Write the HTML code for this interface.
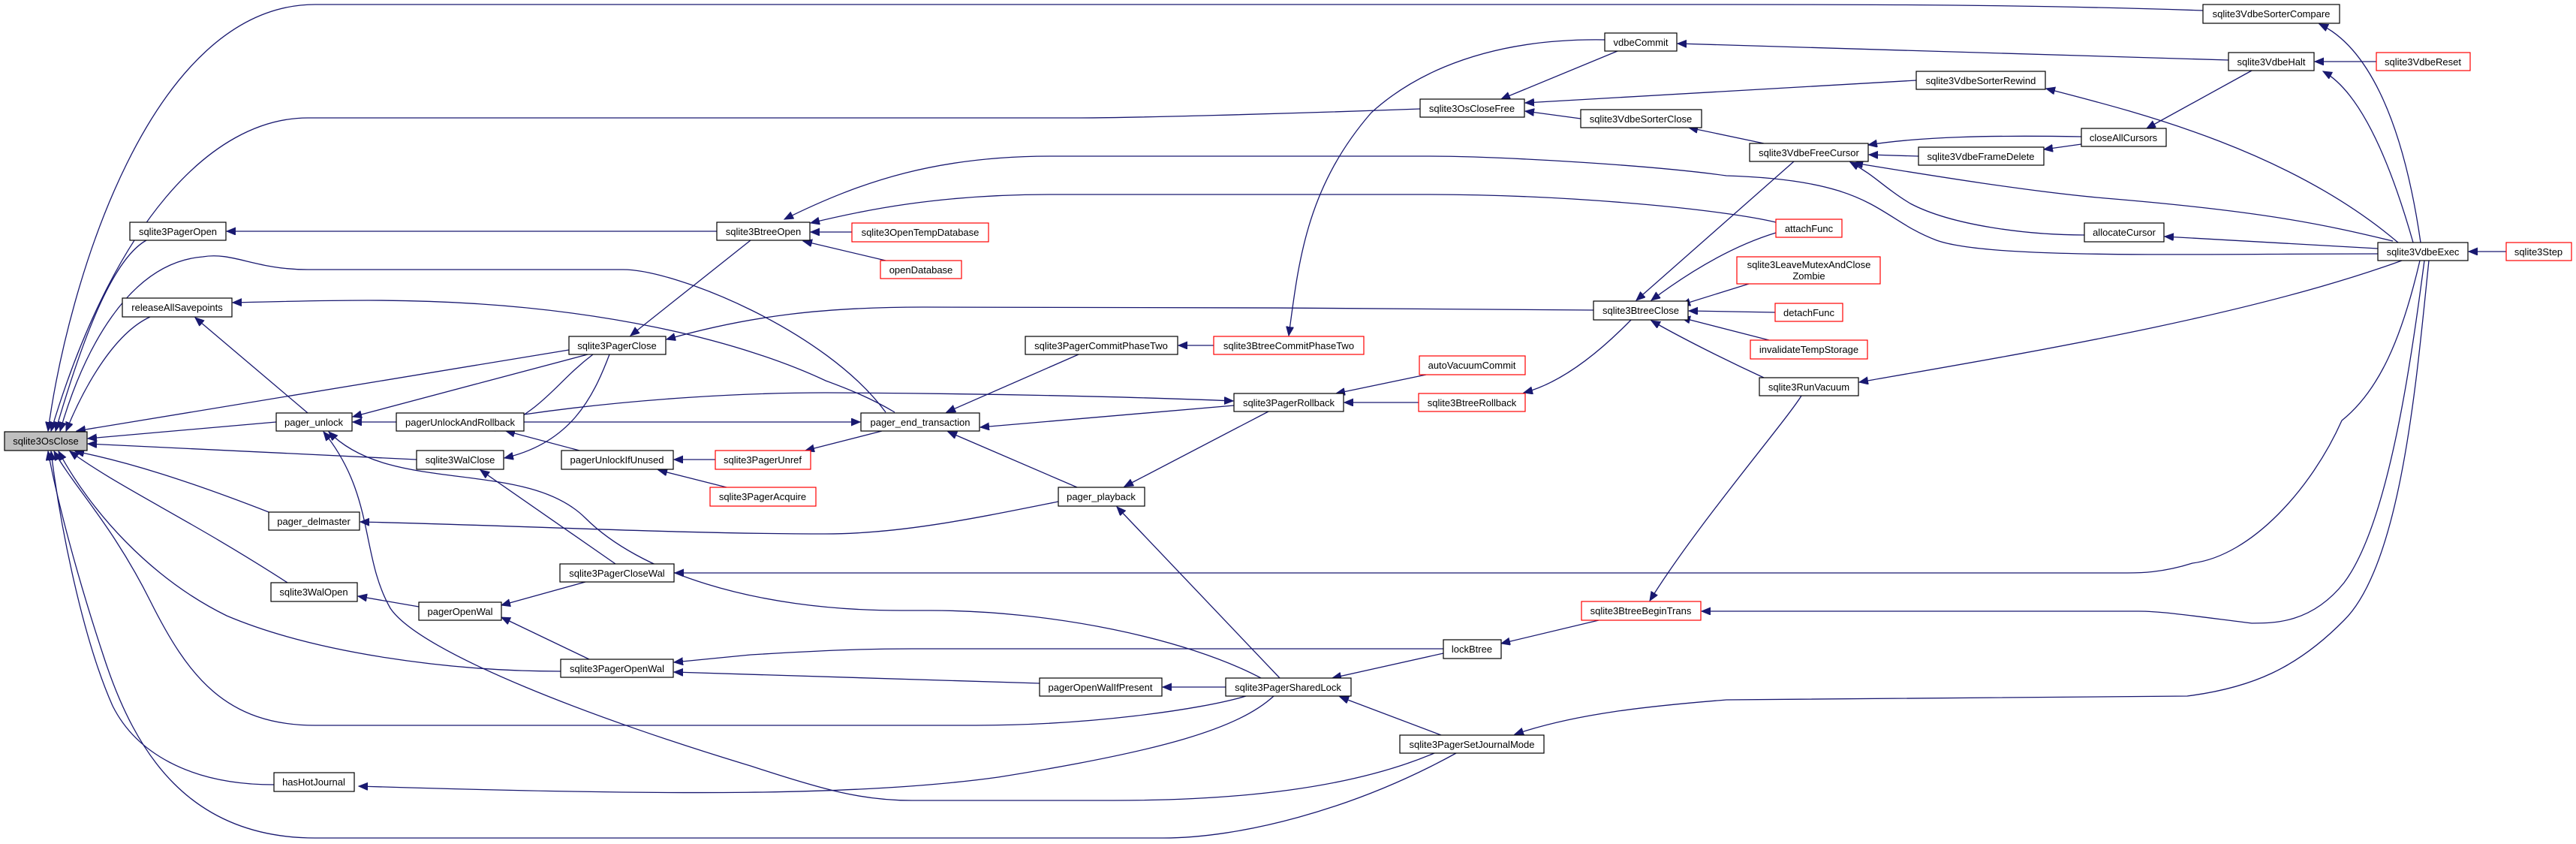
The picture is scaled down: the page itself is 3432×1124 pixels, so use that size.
<!DOCTYPE html>
<html><head><meta charset="utf-8"><style>
html,body{margin:0;padding:0;background:#fff;}
svg{display:block;}
text{font-family:"Liberation Sans",Arial,sans-serif;font-size:13px;fill:#000;}
.n{fill:#fff;stroke:#000;stroke-width:1.2;}
.r{fill:#fff;stroke:#ff0000;stroke-width:1.2;}
.g{fill:#bfbfbf;stroke:#000;stroke-width:1.2;}
path{fill:none;stroke:#191970;stroke-width:1.3;}
</style></head><body>
<svg width="3432" height="1124" viewBox="0 0 3432 1124" xmlns="http://www.w3.org/2000/svg">
<defs><marker id="a" markerUnits="userSpaceOnUse" markerWidth="14" markerHeight="12" refX="12" refY="5" orient="auto"><path d="M0,0 L12,5 L0,10 z" style="fill:#191970;stroke:#191970;stroke-width:1"/></marker></defs>
<g marker-end="url(#a)">
<path d="M2935,14 C2700,6 2500,6 2300,6 L420,6 C200,6 90,380 64,574"/>
<path d="M1892,145 C1700,152 1500,157 1440,157 L410,157 C280,157 150,300 68,574"/>
<path d="M195,320 C150,345 110,450 74,574"/>
<path d="M1180,549 C1100,440 900,359 830,359 L410,359 C340,359 310,335 270,342 C170,350 110,470 80,574"/>
<path d="M200,422 C150,445 110,520 88,574"/>
<path d="M758,466 C520,505 300,540 102,574"/>
<path d="M368,562 L117,584"/>
<path d="M555,612 L117,591"/>
<path d="M358,682 C250,640 170,615 100,601"/>
<path d="M383,776 C250,690 160,650 93,601"/>
<path d="M747,894 C600,894 420,870 302,820 C200,770 120,680 78,601"/>
<path d="M1660,927 C1600,945 1450,966 1300,966 L420,966 C300,966 250,900 200,800 C150,700 100,650 72,601"/>
<path d="M365,1045 C250,1045 180,1000 150,940 C110,850 80,700 68,601"/>
<path d="M1940,1003 C1800,1080 1650,1116 1550,1116 L420,1116 C250,1116 180,1000 140,880 C100,760 75,660 64,601"/>
<path d="M410,550 L260,423"/>
<path d="M528,562 L470,562"/>
<path d="M783,472 L470,555"/>
<path d="M1000,320 L840,447"/>
<path d="M2123,413 C1900,410 1400,409 1230,409 C1100,409 1000,420 888,452"/>
<path d="M790,472 C740,510 730,540 660,574"/>
<path d="M812,472 C790,530 760,590 672,610"/>
<path d="M698,552 C850,530 1000,523 1100,523 C1300,524 1500,528 1643,534"/>
<path d="M698,562 L1146,562"/>
<path d="M772,600 L674,574"/>
<path d="M953,612 L898,612"/>
<path d="M968,649 L877,626"/>
<path d="M1175,574 L1073,600"/>
<path d="M1410,668 C1300,690 1200,711 1100,711 C900,711 700,700 480,695"/>
<path d="M820,751 L640,626"/>
<path d="M785,878 L668,822"/>
<path d="M780,775 L668,806"/>
<path d="M558,808 L477,794"/>
<path d="M1385,910 L898,895"/>
<path d="M1923,864 L1215,864 C1150,864 1100,866 1000,872 L898,882"/>
<path d="M1680,903 C1580,850 1400,813 1240,813 L1200,813 C1000,813 850,760 780,690 C700,610 520,660 438,575"/>
<path d="M1911,1003 C1800,1050 1650,1066 1483,1066 L1215,1066 C1150,1066 1100,1053 1000,1020 C800,960 560,870 520,810 C480,740 500,660 431,575"/>
<path d="M1697,927 C1650,970 1550,1000 1330,1035 C1150,1060 900,1060 478,1047"/>
<path d="M1437,472 L1261,549"/>
<path d="M1617,460 L1570,460"/>
<path d="M1644,540 L1306,569"/>
<path d="M1690,548 L1498,648"/>
<path d="M1435,649 L1263,575"/>
<path d="M1705,903 L1488,675"/>
<path d="M1633,915 L1549,915"/>
<path d="M1923,870 L1775,903"/>
<path d="M2130,826 L2000,857"/>
<path d="M1920,979 L1785,928"/>
<path d="M1890,536 L1791,536"/>
<path d="M1900,499 L1780,524"/>
<path d="M2173,426 C2130,470 2080,510 2030,523"/>
<path d="M2400,527 C2380,560 2260,700 2198,800"/>
<path d="M955,308 L302,308"/>
<path d="M1135,309 L1080,309"/>
<path d="M1180,347 L1070,321"/>
<path d="M3168,338 C2900,338 2650,345 2580,320 C2500,290 2500,240 2300,234 C2200,220 2000,208 1900,208 L1400,208 C1250,208 1150,240 1045,292"/>
<path d="M2366,296 C2300,280 2100,259 1900,259 L1400,259 C1250,259 1150,280 1080,297"/>
<path d="M2138,53 C1950,50 1860,120 1827,150 C1740,250 1730,350 1717,447"/>
<path d="M2155,68 L2000,132"/>
<path d="M2969,80 L2235,58"/>
<path d="M2553,107 L2032,137"/>
<path d="M2106,158 L2032,148"/>
<path d="M2350,191 L2250,170"/>
<path d="M2773,182 C2650,180 2560,182 2489,193"/>
<path d="M2556,208 L2490,206"/>
<path d="M2773,192 L2723,199"/>
<path d="M3000,94 L2860,171"/>
<path d="M3166,82 L3084,82"/>
<path d="M3215,323 C3180,200 3140,120 3095,95"/>
<path d="M3225,323 C3200,150 3150,60 3090,32"/>
<path d="M3195,323 C3050,200 2850,150 2726,118"/>
<path d="M3188,321 C3100,300 3022,282 2805,264 C2700,255 2550,230 2470,217"/>
<path d="M2777,313 C2700,313 2600,300 2545,271 C2510,250 2500,235 2465,216"/>
<path d="M3168,331 L2884,315"/>
<path d="M3339,335 L3289,335"/>
<path d="M3200,347 C3000,420 2700,470 2477,509"/>
<path d="M3224,347 C3200,450 3170,520 3120,560 C3080,650 3000,740 2921,750 C2880,763 2850,763 2834,763 L899,763"/>
<path d="M3230,347 C3210,500 3180,700 3123,776 C3080,830 3030,830 3000,830 C2920,820 2880,814 2849,814 L2267,814"/>
<path d="M3236,347 C3220,500 3200,750 3123,826 C3060,890 3000,916 2914,927 L2300,932 C2200,940 2100,950 2018,978"/>
<path d="M2390,215 L2180,400"/>
<path d="M2366,310 C2300,330 2240,370 2200,400"/>
<path d="M2330,378 L2240,406"/>
<path d="M2365,416 L2250,414"/>
<path d="M2357,453 L2240,423"/>
<path d="M2350,503 C2300,480 2240,450 2200,427"/>
<path d="M1192,549 C1160,530 1130,518 1100,507 C1000,460 800,400 491,400 C420,400 360,402 310,403"/>
</g>
<g>
<rect class="g" x="6" y="575" width="110" height="25"/><text x="61" y="592" text-anchor="middle">sqlite3OsClose</text>
<rect class="n" x="173" y="296" width="128" height="24"/><text x="237" y="313" text-anchor="middle">sqlite3PagerOpen</text>
<rect class="n" x="955" y="296" width="124" height="24"/><text x="1017" y="313" text-anchor="middle">sqlite3BtreeOpen</text>
<rect class="n" x="163" y="397" width="146" height="25"/><text x="236" y="414" text-anchor="middle">releaseAllSavepoints</text>
<rect class="n" x="758" y="448" width="129" height="24"/><text x="822" y="465" text-anchor="middle">sqlite3PagerClose</text>
<rect class="n" x="368" y="550" width="101" height="24"/><text x="418" y="567" text-anchor="middle">pager_unlock</text>
<rect class="n" x="528" y="550" width="170" height="24"/><text x="613" y="567" text-anchor="middle">pagerUnlockAndRollback</text>
<rect class="n" x="555" y="600" width="116" height="25"/><text x="613" y="617" text-anchor="middle">sqlite3WalClose</text>
<rect class="n" x="748" y="600" width="149" height="25"/><text x="822" y="617" text-anchor="middle">pagerUnlockIfUnused</text>
<rect class="r" x="953" y="600" width="127" height="25"/><text x="1016" y="617" text-anchor="middle">sqlite3PagerUnref</text>
<rect class="r" x="946" y="649" width="141" height="25"/><text x="1016" y="666" text-anchor="middle">sqlite3PagerAcquire</text>
<rect class="n" x="358" y="682" width="121" height="24"/><text x="418" y="699" text-anchor="middle">pager_delmaster</text>
<rect class="n" x="746" y="751" width="152" height="24"/><text x="822" y="768" text-anchor="middle">sqlite3PagerCloseWal</text>
<rect class="n" x="361" y="776" width="115" height="25"/><text x="418" y="793" text-anchor="middle">sqlite3WalOpen</text>
<rect class="n" x="558" y="802" width="110" height="24"/><text x="613" y="819" text-anchor="middle">pagerOpenWal</text>
<rect class="n" x="747" y="878" width="150" height="24"/><text x="822" y="895" text-anchor="middle">sqlite3PagerOpenWal</text>
<rect class="n" x="365" y="1029" width="107" height="25"/><text x="418" y="1046" text-anchor="middle">hasHotJournal</text>
<rect class="n" x="2138" y="44" width="96" height="24"/><text x="2186" y="61" text-anchor="middle">vdbeCommit</text>
<rect class="n" x="1892" y="132" width="139" height="24"/><text x="1961" y="149" text-anchor="middle">sqlite3OsCloseFree</text>
<rect class="n" x="2106" y="146" width="161" height="24"/><text x="2186" y="163" text-anchor="middle">sqlite3VdbeSorterClose</text>
<rect class="r" x="1135" y="297" width="182" height="25"/><text x="1226" y="314" text-anchor="middle">sqlite3OpenTempDatabase</text>
<rect class="r" x="1173" y="347" width="108" height="24"/><text x="1227" y="364" text-anchor="middle">openDatabase</text>
<rect class="n" x="2123" y="401" width="126" height="25"/><text x="2186" y="418" text-anchor="middle">sqlite3BtreeClose</text>
<rect class="n" x="1366" y="448" width="203" height="24"/><text x="1467" y="465" text-anchor="middle">sqlite3PagerCommitPhaseTwo</text>
<rect class="r" x="1617" y="448" width="200" height="24"/><text x="1717" y="465" text-anchor="middle">sqlite3BtreeCommitPhaseTwo</text>
<rect class="r" x="1891" y="474" width="141" height="25"/><text x="1961" y="491" text-anchor="middle">autoVacuumCommit</text>
<rect class="n" x="1644" y="524" width="146" height="24"/><text x="1717" y="541" text-anchor="middle">sqlite3PagerRollback</text>
<rect class="r" x="1890" y="524" width="142" height="24"/><text x="1961" y="541" text-anchor="middle">sqlite3BtreeRollback</text>
<rect class="n" x="1147" y="550" width="158" height="24"/><text x="1226" y="567" text-anchor="middle">pager_end_transaction</text>
<rect class="n" x="2935" y="6" width="182" height="25"/><text x="3026" y="23" text-anchor="middle">sqlite3VdbeSorterCompare</text>
<rect class="n" x="2969" y="70" width="114" height="24"/><text x="3026" y="87" text-anchor="middle">sqlite3VdbeHalt</text>
<rect class="r" x="3166" y="70" width="125" height="24"/><text x="3228" y="87" text-anchor="middle">sqlite3VdbeReset</text>
<rect class="n" x="2553" y="95" width="172" height="24"/><text x="2639" y="112" text-anchor="middle">sqlite3VdbeSorterRewind</text>
<rect class="n" x="2773" y="171" width="113" height="24"/><text x="2829" y="188" text-anchor="middle">closeAllCursors</text>
<rect class="n" x="2331" y="191" width="158" height="24"/><text x="2410" y="208" text-anchor="middle">sqlite3VdbeFreeCursor</text>
<rect class="n" x="2556" y="196" width="167" height="24"/><text x="2639" y="213" text-anchor="middle">sqlite3VdbeFrameDelete</text>
<rect class="r" x="2366" y="292" width="88" height="24"/><text x="2410" y="309" text-anchor="middle">attachFunc</text>
<rect class="n" x="2777" y="297" width="106" height="25"/><text x="2830" y="314" text-anchor="middle">allocateCursor</text>
<rect class="n" x="3168" y="323" width="120" height="24"/><text x="3228" y="340" text-anchor="middle">sqlite3VdbeExec</text>
<rect class="r" x="3339" y="323" width="87" height="24"/><text x="3382" y="340" text-anchor="middle">sqlite3Step</text>
<rect class="r" x="2314" y="342" width="191" height="36"/><text x="2410" y="357" text-anchor="middle">sqlite3LeaveMutexAndClose</text><text x="2410" y="372" text-anchor="middle">Zombie</text>
<rect class="r" x="2365" y="404" width="90" height="24"/><text x="2410" y="421" text-anchor="middle">detachFunc</text>
<rect class="r" x="2332" y="453" width="156" height="25"/><text x="2410" y="470" text-anchor="middle">invalidateTempStorage</text>
<rect class="n" x="2344" y="503" width="132" height="24"/><text x="2410" y="520" text-anchor="middle">sqlite3RunVacuum</text>
<rect class="n" x="1410" y="649" width="115" height="25"/><text x="1467" y="666" text-anchor="middle">pager_playback</text>
<rect class="r" x="2107" y="801" width="159" height="25"/><text x="2186" y="818" text-anchor="middle">sqlite3BtreeBeginTrans</text>
<rect class="n" x="1923" y="852" width="77" height="25"/><text x="1961" y="869" text-anchor="middle">lockBtree</text>
<rect class="n" x="1385" y="903" width="163" height="24"/><text x="1466" y="920" text-anchor="middle">pagerOpenWalIfPresent</text>
<rect class="n" x="1633" y="903" width="167" height="24"/><text x="1716" y="920" text-anchor="middle">sqlite3PagerSharedLock</text>
<rect class="n" x="1865" y="979" width="192" height="24"/><text x="1961" y="996" text-anchor="middle">sqlite3PagerSetJournalMode</text>
</g>
</svg>
</body></html>
